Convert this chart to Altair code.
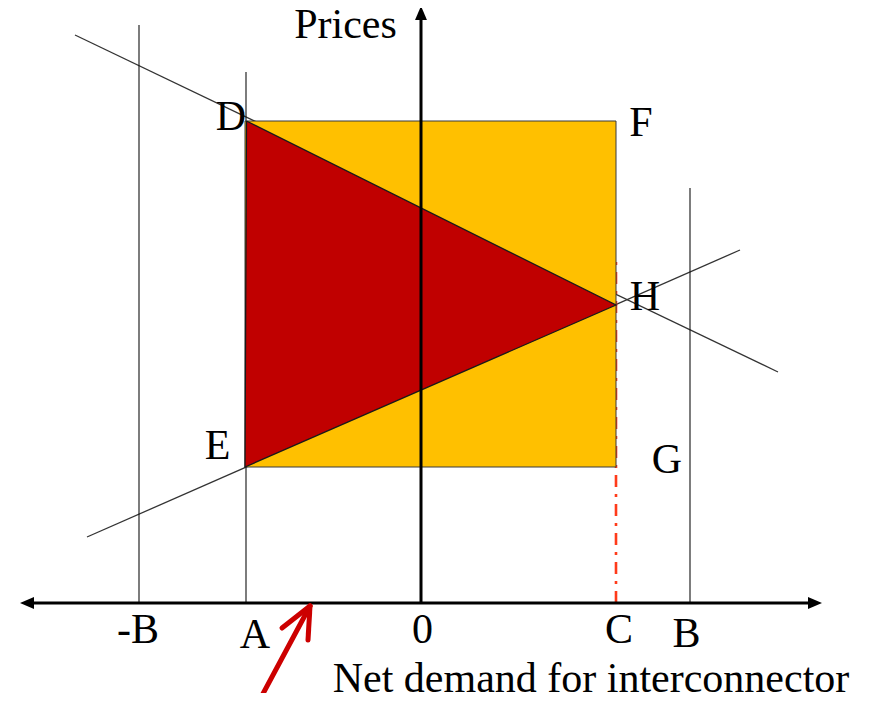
import altair as alt
import pandas as pd

# Diagram coordinates: origin where the two axes cross (units ~ pixels)
rect_x = [-176, 195]          # A .. C
rect_y = [136, 482]           # E/G price .. D/F price
tri_x = [-174.5, 195, -176, -174.5]   # D, H, E, back to D
tri_y = [482, 298, 136, 482]
demand_line = [(-346, 568), (357, 231)]
supply_line = [(-334, 66), (319, 353)]
vert_x = [-282, -175, 269]    # -B, A, B
vert_top = [578, 531, 415]
c_x = [195]
c_top = [348]
x_axis = [-396, 396]
y_axis_top = [591]
arrow_shaft = [(-163, -100), (-111, -3)]
arrow_arms = [(-139, -25), (-113, -37)]

labels = ["Prices", "D", "F", "H", "E", "G", "-B", "A", "0", "C", "B",
          "Net demand for interconnector"]
label_x = [-75.5, -190, 220, 224, -203.5, 246, -283, -166, 1.5, 198, 265.5, 170]
label_y = [565, 473, 467, 293, 144, 130, -40, -45, -40, -40, -44, -89]

xs = alt.Scale(domain=[-413, 446], nice=False, zero=False)
ys = alt.Scale(domain=[-90, 595], nice=False, zero=False)


def X(f):
    return alt.X(f, type="quantitative", scale=xs, axis=None)


def Y(f):
    return alt.Y(f, type="quantitative", scale=ys, axis=None)


seg_df = pd.DataFrame({
    "x": [demand_line[0][0], supply_line[0][0]],
    "y": [demand_line[0][1], supply_line[0][1]],
    "x2": [demand_line[1][0], supply_line[1][0]],
    "y2": [demand_line[1][1], supply_line[1][1]],
})
diag = alt.Chart(seg_df).mark_rule(color="#333333", strokeWidth=1.3).encode(
    x=X("x"), y=Y("y"), x2="x2", y2="y2")

verts = alt.Chart(pd.DataFrame({"x": vert_x, "y": [0] * 3, "y2": vert_top})).mark_rule(
    color="#111111", strokeWidth=1.1).encode(x=X("x"), y=Y("y"), y2="y2")

cline = alt.Chart(pd.DataFrame({"x": c_x, "y": [0], "y2": c_top})).mark_rule(
    color="#FF3B1A", strokeWidth=2.6, strokeDash=[12, 7, 3, 7]).encode(
    x=X("x"), y=Y("y"), y2="y2")

rect = alt.Chart(pd.DataFrame({"x": [rect_x[0]], "x2": [rect_x[1]],
                               "y": [rect_y[0]], "y2": [rect_y[1]]})).mark_rect(
    color="#FFC000", stroke="#3a3a3a", strokeWidth=1
).encode(x=X("x"), x2="x2", y=Y("y"), y2="y2")

tri = alt.Chart(pd.DataFrame({"x": tri_x, "y": tri_y, "o": list(range(len(tri_x)))})).mark_line(
    fill="#C00000", stroke="#1a1a1a", strokeWidth=1.3
).encode(x=X("x"), y=Y("y"), order="o:Q")

xaxis = alt.Chart(pd.DataFrame({"x": [x_axis[0]], "x2": [x_axis[1]], "y": [0]})).mark_rule(
    color="black", strokeWidth=3).encode(x=X("x"), x2="x2", y=Y("y"))
yaxis = alt.Chart(pd.DataFrame({"x": [0], "y": [0], "y2": y_axis_top})).mark_rule(
    color="black", strokeWidth=3).encode(x=X("x"), y=Y("y"), y2="y2")

head_r = alt.Chart(pd.DataFrame({"x": [x_axis[1] + 5], "y": [0]})).mark_point(
    shape="M0,0L-2,-0.85L-2,0.85Z", size=196, filled=True, color="black", opacity=1
).encode(x=X("x"), y=Y("y"))
head_l = alt.Chart(pd.DataFrame({"x": [x_axis[0] - 5], "y": [0]})).mark_point(
    shape="M0,0L2,-0.85L2,0.85Z", size=196, filled=True, color="black", opacity=1
).encode(x=X("x"), y=Y("y"))
head_u = alt.Chart(pd.DataFrame({"x": [0], "y": [y_axis_top[0] + 6]})).mark_point(
    shape="M0,0L-0.85,2L0.85,2Z", size=196, filled=True, color="black", opacity=1
).encode(x=X("x"), y=Y("y"))

tip = arrow_shaft[1]
arrow_df = pd.DataFrame({
    "x": [arrow_shaft[0][0], arrow_arms[0][0], arrow_arms[1][0]],
    "y": [arrow_shaft[0][1], arrow_arms[0][1], arrow_arms[1][1]],
    "x2": [tip[0]] * 3,
    "y2": [tip[1]] * 3,
})
red_arrow = alt.Chart(arrow_df).mark_rule(
    color="#CC0000", strokeWidth=5, strokeCap="round").encode(
    x=X("x"), y=Y("y"), x2="x2", y2="y2")

text = alt.Chart(pd.DataFrame({"x": label_x, "y": label_y, "t": labels})).mark_text(
    align="center", baseline="alphabetic", font="Liberation Serif", fontSize=42, color="black"
).encode(x=X("x"), y=Y("y"), text="t:N")

chart = alt.layer(
    diag, verts, cline, rect, tri, xaxis, yaxis, head_r, head_l, head_u, red_arrow, text
).properties(
    width=859, height=685, padding=0,
    autosize=alt.AutoSizeParams(type="none"),
    background="white",
).configure_view(stroke=None)

chart.save("out.html", embed_options={"renderer": "svg", "actions": False})
